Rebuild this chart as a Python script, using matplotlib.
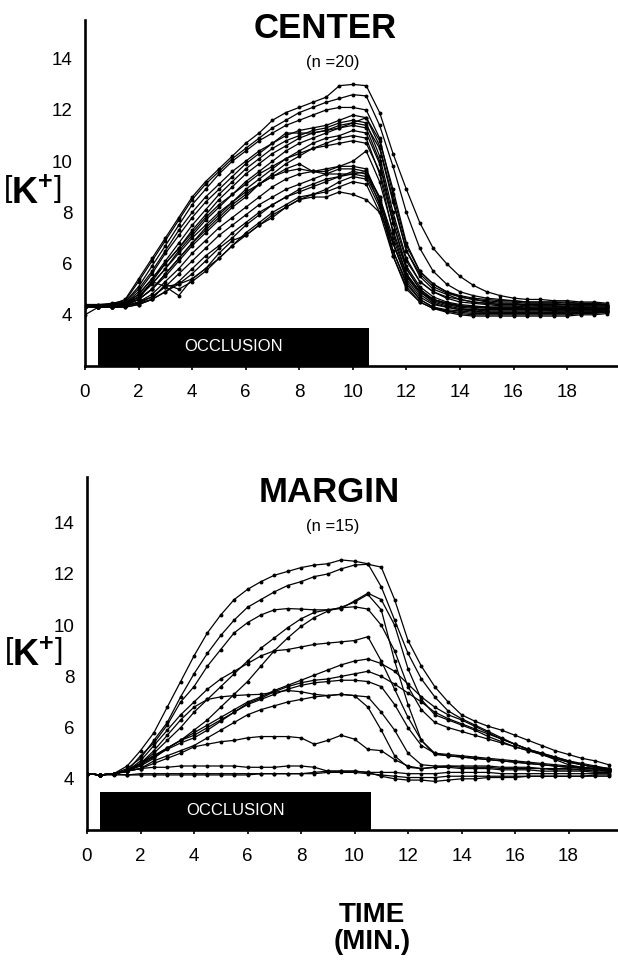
import matplotlib
matplotlib.use("Agg")
import matplotlib.pyplot as plt
from matplotlib.patches import Rectangle
import numpy as np

plt.rcParams['font.family'] = ['Liberation Sans', 'DejaVu Sans']
plt.rcParams['mathtext.fontset'] = 'custom'
plt.rcParams['mathtext.rm'] = 'Liberation Sans'
plt.rcParams['mathtext.bf'] = 'Liberation Sans:bold'

# sampling grid, minutes
time = np.arange(0, 20, 0.5)

# occlusion interval, minutes
occlusion_start = 0.5
occlusion_end = 10.6

# ---- CENTER recordings, [K+] in mM ----
c01 = [4.4, 4.4, 4.4, 4.6, 5.4, 6.2, 7.0, 7.8, 8.6, 9.2,
       9.7, 10.2, 10.7, 11.1, 11.6, 11.9, 12.1, 12.3, 12.5, 12.95,
       13.0, 12.95, 11.9, 10.3, 8.9, 7.6, 6.6, 6.0, 5.5, 5.15,
       4.9, 4.75, 4.65, 4.6, 4.6, 4.55, 4.55, 4.5, 4.5, 4.45]
c02 = [4.4, 4.4, 4.45, 4.55, 5.3, 6.1, 6.9, 7.7, 8.5, 9.1,
       9.6, 10.1, 10.5, 10.9, 11.3, 11.6, 11.9, 12.1, 12.3, 12.45,
       12.6, 12.55, 11.4, 9.8, 8.0, 6.6, 5.7, 5.2, 4.9, 4.75,
       4.65, 4.6, 4.55, 4.5, 4.5, 4.5, 4.5, 4.45, 4.45, 4.4]
c03 = [4.35, 4.35, 4.4, 4.5, 5.1, 5.9, 6.7, 7.5, 8.3, 8.9,
       9.5, 10.0, 10.4, 10.8, 11.1, 11.4, 11.6, 11.8, 12.0, 12.1,
       12.1, 12.0, 10.9, 8.7, 6.7, 5.7, 5.2, 4.9, 4.75, 4.65,
       4.6, 4.55, 4.55, 4.5, 4.5, 4.5, 4.45, 4.45, 4.45, 4.4]
c04 = [4.35, 4.35, 4.4, 4.5, 5.0, 5.7, 6.5, 7.3, 8.0, 8.6,
       9.1, 9.6, 10.0, 10.4, 10.7, 11.0, 11.2, 11.3, 11.4, 11.6,
       11.8, 11.7, 10.6, 8.5, 6.5, 5.6, 5.1, 4.85, 4.7, 4.6,
       4.55, 4.5, 4.5, 4.45, 4.45, 4.45, 4.4, 4.4, 4.4, 4.4]
c05 = [4.35, 4.35, 4.4, 4.45, 4.9, 5.6, 6.4, 7.1, 7.8, 8.4,
       8.9, 9.4, 9.9, 10.3, 10.7, 11.1, 11.1, 11.1, 11.2, 11.3,
       11.5, 11.7, 10.8, 8.9, 6.8, 5.7, 5.2, 4.9, 4.7, 4.6,
       4.5, 4.45, 4.45, 4.4, 4.4, 4.4, 4.4, 4.35, 4.35, 4.35]
c06 = [4.35, 4.35, 4.35, 4.45, 4.8, 5.4, 6.1, 6.8, 7.5, 8.1,
       8.7, 9.2, 9.7, 10.1, 10.5, 10.8, 11.0, 11.2, 11.3, 11.5,
       11.6, 11.5, 10.2, 8.0, 6.2, 5.3, 4.9, 4.7, 4.6, 4.5,
       4.45, 4.4, 4.4, 4.4, 4.35, 4.35, 4.35, 4.35, 4.35, 4.35]
c07 = [4.35, 4.35, 4.35, 4.4, 4.7, 5.3, 6.0, 6.6, 7.3, 7.9,
       8.5, 9.0, 9.5, 9.9, 10.3, 10.6, 10.9, 11.1, 11.2, 11.4,
       11.5, 11.4, 10.5, 8.4, 6.5, 5.5, 5.0, 4.8, 4.6, 4.5,
       4.45, 4.4, 4.4, 4.35, 4.35, 4.35, 4.3, 4.3, 4.3, 4.3]
c08 = [4.35, 4.35, 4.35, 4.4, 4.7, 5.2, 5.8, 6.5, 7.1, 7.7,
       8.2, 8.7, 9.2, 9.6, 10.0, 10.4, 10.7, 10.9, 11.1, 11.3,
       11.4, 11.3, 10.0, 7.8, 6.1, 5.3, 4.9, 4.65, 4.5, 4.45,
       4.4, 4.35, 4.35, 4.3, 4.3, 4.3, 4.3, 4.3, 4.3, 4.3]
c09 = [4.35, 4.35, 4.35, 4.4, 4.6, 5.0, 5.6, 6.2, 6.8, 7.4,
       7.9, 8.4, 8.9, 9.3, 9.7, 10.1, 10.4, 10.7, 10.9, 11.0,
       11.2, 11.1, 9.9, 7.6, 5.8, 5.0, 4.6, 4.45, 4.35, 4.3,
       4.3, 4.25, 4.25, 4.25, 4.25, 4.25, 4.2, 4.2, 4.2, 4.25]
c10 = [4.35, 4.35, 4.35, 4.4, 4.6, 5.0, 5.5, 6.1, 6.7, 7.2,
       7.7, 8.2, 8.6, 9.1, 9.5, 9.9, 10.2, 10.5, 10.7, 10.9,
       11.0, 10.9, 9.5, 7.2, 5.6, 4.9, 4.5, 4.35, 4.25, 4.2,
       4.2, 4.2, 4.2, 4.2, 4.2, 4.15, 4.15, 4.15, 4.15, 4.2]
c11 = [4.3, 4.3, 4.35, 4.4, 4.8, 5.4, 6.0, 6.6, 7.2, 7.8,
       8.3, 8.7, 9.1, 9.5, 9.8, 10.1, 10.3, 10.5, 10.6, 10.7,
       10.8, 10.7, 9.6, 7.6, 5.9, 5.1, 4.7, 4.5, 4.4, 4.35,
       4.3, 4.3, 4.3, 4.3, 4.3, 4.3, 4.3, 4.3, 4.25, 4.25]
c12 = [4.3, 4.3, 4.35, 4.4, 4.7, 5.2, 5.8, 6.4, 7.0, 7.5,
       8.0, 8.4, 8.8, 9.1, 9.4, 9.6, 9.7, 9.6, 9.6, 9.8,
       10.0, 10.4, 9.2, 7.3, 5.8, 5.0, 4.6, 4.45, 4.35, 4.3,
       4.25, 4.25, 4.25, 4.2, 4.2, 4.2, 4.2, 4.2, 4.2, 4.2]
c13 = [4.3, 4.3, 4.35, 4.4, 4.6, 5.0, 5.6, 6.2, 6.8, 7.3,
       7.8, 8.3, 8.7, 9.1, 9.4, 9.7, 9.9, 9.6, 9.5, 9.5,
       9.5, 9.6, 8.6, 6.8, 5.5, 4.9, 4.6, 4.45, 4.35, 4.3,
       4.3, 4.3, 4.3, 4.25, 4.25, 4.25, 4.25, 4.25, 4.25, 4.25]
c14 = [4.3, 4.3, 4.3, 4.35, 4.5, 4.8, 5.3, 5.8, 6.4, 6.9,
       7.4, 7.8, 8.2, 8.6, 9.0, 9.3, 9.5, 9.6, 9.7, 9.8,
       9.8, 9.7, 8.5, 6.5, 5.2, 4.6, 4.3, 4.2, 4.15, 4.1,
       4.1, 4.1, 4.1, 4.1, 4.1, 4.1, 4.1, 4.1, 4.1, 4.15]
c15 = [4.3, 4.3, 4.3, 4.35, 4.5, 4.7, 5.1, 5.6, 6.1, 6.6,
       7.1, 7.5, 7.9, 8.3, 8.6, 8.9, 9.1, 9.3, 9.5, 9.7,
       9.7, 9.6, 8.3, 6.3, 5.0, 4.5, 4.25, 4.15, 4.1, 4.05,
       4.05, 4.05, 4.05, 4.05, 4.05, 4.05, 4.05, 4.05, 4.1, 4.1]
c16 = [4.3, 4.3, 4.3, 4.35, 4.45, 4.7, 5.1, 5.2, 5.6, 6.1,
       6.6, 7.0, 7.5, 7.9, 8.3, 8.6, 8.9, 9.1, 9.3, 9.4,
       9.6, 9.5, 8.6, 7.0, 5.6, 4.9, 4.55, 4.4, 4.3, 4.25,
       4.2, 4.2, 4.2, 4.2, 4.2, 4.2, 4.2, 4.2, 4.2, 4.2]
c17 = [4.3, 4.3, 4.3, 4.35, 4.45, 4.6, 4.9, 5.3, 5.8, 6.3,
       6.7, 7.2, 7.6, 8.0, 8.3, 8.6, 8.8, 9.0, 9.2, 9.4,
       9.5, 9.4, 8.4, 6.8, 5.4, 4.7, 4.4, 4.3, 4.2, 4.2,
       4.15, 4.15, 4.15, 4.15, 4.15, 4.15, 4.15, 4.15, 4.15, 4.15]
c18 = [4.3, 4.3, 4.3, 4.3, 4.4, 4.6, 5.2, 5.0, 5.3, 5.7,
       6.2, 6.7, 7.2, 7.6, 8.0, 8.3, 8.6, 8.7, 8.9, 9.2,
       9.4, 9.3, 8.2, 6.5, 5.3, 4.6, 4.3, 4.15, 4.05, 4.0,
       4.0, 4.0, 4.0, 4.0, 4.0, 4.0, 4.0, 4.05, 4.05, 4.1]
c19 = [4.3, 4.3, 4.3, 4.3, 4.4, 4.6, 4.9, 5.2, 5.4, 5.8,
       6.2, 6.7, 7.1, 7.5, 7.8, 8.2, 8.5, 8.7, 8.8, 9.0,
       9.2, 9.1, 8.0, 6.3, 5.1, 4.5, 4.25, 4.1, 4.0, 3.95,
       3.95, 3.95, 3.95, 3.95, 3.95, 3.95, 3.95, 4.0, 4.0, 4.05]
c20 = [4.0, 4.3, 4.3, 4.35, 4.6, 5.3, 5.1, 4.75, 5.4, 5.8,
       6.4, 6.9, 7.1, 7.5, 7.9, 8.2, 8.5, 8.6, 8.6, 8.8,
       8.7, 8.5, 8.0, 6.8, 5.5, 4.8, 4.45, 4.3, 4.2, 4.15,
       4.1, 4.1, 4.1, 4.1, 4.1, 4.1, 4.1, 4.1, 4.1, 4.1]

center = [c01, c02, c03, c04, c05, c06, c07, c08, c09, c10,
          c11, c12, c13, c14, c15, c16, c17, c18, c19, c20]

# ---- MARGIN recordings, [K+] in mM ----
m01 = [4.2, 4.15, 4.2, 4.5, 5.1, 5.8, 6.8, 7.8, 8.8, 9.7,
       10.4, 11.0, 11.4, 11.7, 11.95, 12.1, 12.25, 12.35, 12.4, 12.55,
       12.5, 12.4, 11.5, 10.2, 8.9, 7.9, 7.2, 6.65, 6.35, 6.1,
       5.85, 5.6, 5.35, 5.15, 4.95, 4.75, 4.55, 4.45, 4.38, 4.3]
m02 = [4.2, 4.15, 4.2, 4.4, 4.8, 5.5, 6.2, 7.2, 8.1, 8.9,
       9.6, 10.2, 10.7, 11.0, 11.3, 11.55, 11.7, 11.9, 12.0, 12.2,
       12.35, 12.38, 12.27, 11.0, 9.4, 8.4, 7.6, 7.0, 6.5, 6.25,
       6.05, 5.9, 5.7, 5.5, 5.3, 5.1, 4.95, 4.8, 4.7, 4.55]
m03 = [4.2, 4.15, 4.2, 4.35, 4.6, 5.0, 5.5, 6.0, 6.6, 7.1,
       7.6, 8.1, 8.6, 9.1, 9.5, 9.9, 10.25, 10.5, 10.6, 10.65,
       10.95, 11.25, 11.0, 10.0, 8.3, 7.1, 6.5, 6.3, 6.1, 5.9,
       5.65, 5.45, 5.25, 5.1, 4.95, 4.8, 4.65, 4.55, 4.45, 4.4]
m04 = [4.2, 4.15, 4.2, 4.3, 4.5, 4.8, 5.2, 5.5, 5.9, 6.3,
       6.8, 7.3, 7.8, 8.4, 9.0, 9.5, 9.95, 10.3, 10.55, 10.7,
       10.9, 11.2, 10.6, 8.6, 6.9, 5.5, 4.95, 4.9, 4.85, 4.8,
       4.75, 4.7, 4.65, 4.6, 4.55, 4.5, 4.45, 4.4, 4.4, 4.35]
m05 = [4.2, 4.15, 4.2, 4.3, 4.9, 5.4, 6.1, 7.0, 7.6, 8.4,
       9.05, 9.7, 10.1, 10.4, 10.6, 10.65, 10.63, 10.6, 10.6, 10.68,
       10.72, 10.63, 10.0, 9.0, 7.6, 6.7, 6.2, 6.0, 5.85, 5.7,
       5.55, 5.4, 5.25, 5.1, 4.95, 4.8, 4.65, 4.55, 4.45, 4.4]
m06 = [4.2, 4.15, 4.2, 4.3, 4.7, 5.3, 5.9, 6.5, 7.0, 7.5,
       7.9, 8.2, 8.5, 8.8, 9.0, 9.05, 9.15, 9.25, 9.3, 9.35,
       9.4, 9.55, 8.6, 7.5, 6.4, 5.5, 5.0, 4.9, 4.85, 4.8,
       4.75, 4.7, 4.65, 4.6, 4.55, 4.5, 4.45, 4.45, 4.4, 4.4]
m07 = [4.2, 4.15, 4.2, 4.3, 4.6, 4.9, 5.2, 5.5, 5.8, 6.1,
       6.4, 6.7, 7.0, 7.2, 7.45, 7.65, 7.85, 8.05, 8.25, 8.45,
       8.6, 8.68, 8.5, 8.2, 7.7, 7.2, 6.8, 6.5, 6.3, 6.05,
       5.8, 5.55, 5.35, 5.15, 5.0, 4.85, 4.7, 4.6, 4.5, 4.4]
m08 = [4.2, 4.15, 4.2, 4.3, 4.6, 4.9, 5.2, 5.5, 5.7, 6.0,
       6.3, 6.6, 6.95, 7.15, 7.4, 7.6, 7.75, 7.85, 7.9, 8.0,
       8.1, 8.2, 8.0, 7.7, 7.35, 7.0, 6.6, 6.35, 6.15, 5.95,
       5.75, 5.55, 5.35, 5.15, 5.0, 4.85, 4.7, 4.55, 4.45, 4.35]
m09 = [4.2, 4.15, 4.2, 4.3, 4.55, 4.85, 5.15, 5.4, 5.6, 5.9,
       6.25, 6.6, 6.9, 7.1, 7.3, 7.5, 7.65, 7.75, 7.8, 7.85,
       7.85, 7.8, 7.6, 6.9, 6.0, 5.3, 5.0, 4.95, 4.9, 4.85,
       4.8, 4.75, 4.7, 4.65, 4.6, 4.55, 4.5, 4.45, 4.4, 4.4]
m10 = [4.2, 4.15, 4.2, 4.3, 4.6, 5.1, 5.7, 6.3, 6.8, 7.1,
       7.2, 7.25, 7.28, 7.3, 7.38, 7.45, 7.4, 7.3, 7.25, 7.3,
       7.25, 7.2, 6.6, 5.9, 5.0, 4.55, 4.5, 4.5, 4.45, 4.45,
       4.45, 4.4, 4.4, 4.4, 4.4, 4.35, 4.35, 4.35, 4.3, 4.3]
m11 = [4.2, 4.15, 4.2, 4.3, 4.4, 4.7, 4.9, 5.1, 5.3, 5.6,
       5.9, 6.2, 6.5, 6.7, 6.85, 7.0, 7.1, 7.2, 7.25, 7.3,
       7.25, 6.8, 5.9, 4.9, 4.45, 4.4, 4.45, 4.5, 4.5, 4.5,
       4.5, 4.45, 4.45, 4.45, 4.4, 4.4, 4.4, 4.35, 4.35, 4.3]
m12 = [4.2, 4.15, 4.2, 4.3, 4.4, 4.6, 4.8, 5.0, 5.25, 5.35,
       5.45, 5.5, 5.6, 5.65, 5.65, 5.65, 5.6, 5.35, 5.5, 5.7,
       5.55, 5.15, 5.1, 4.75, 4.5, 4.4, 4.45, 4.45, 4.4, 4.4,
       4.4, 4.35, 4.35, 4.35, 4.3, 4.3, 4.3, 4.3, 4.25, 4.25]
m13 = [4.2, 4.15, 4.2, 4.3, 4.4, 4.45, 4.45, 4.5, 4.5, 4.5,
       4.5, 4.5, 4.45, 4.45, 4.45, 4.5, 4.5, 4.45, 4.3, 4.3,
       4.3, 4.25, 4.25, 4.25, 4.2, 4.2, 4.2, 4.25, 4.25, 4.25,
       4.25, 4.2, 4.2, 4.2, 4.2, 4.2, 4.2, 4.2, 4.2, 4.2]
m14 = [4.2, 4.15, 4.2, 4.15, 4.2, 4.2, 4.2, 4.2, 4.2, 4.2,
       4.2, 4.2, 4.2, 4.2, 4.2, 4.2, 4.2, 4.25, 4.3, 4.3,
       4.3, 4.25, 4.1, 4.0, 3.95, 3.95, 3.9, 3.95, 4.0, 4.0,
       4.05, 4.05, 4.05, 4.1, 4.1, 4.1, 4.1, 4.1, 4.15, 4.15]
m15 = [4.2, 4.15, 4.15, 4.15, 4.15, 4.15, 4.15, 4.15, 4.15, 4.15,
       4.15, 4.15, 4.15, 4.2, 4.2, 4.2, 4.2, 4.2, 4.25, 4.25,
       4.25, 4.2, 4.15, 4.1, 4.05, 4.05, 4.05, 4.1, 4.1, 4.1,
       4.1, 4.1, 4.1, 4.1, 4.1, 4.1, 4.1, 4.1, 4.1, 4.1]

margin = [m01, m02, m03, m04, m05, m06, m07, m08, m09, m10,
          m11, m12, m13, m14, m15]

x_ticks = [0, 2, 4, 6, 8, 10, 12, 14, 16, 18]
y_ticks = [4, 6, 8, 10, 12, 14]

W, H = 618, 961
fig = plt.figure(figsize=(W / 100, H / 100), dpi=100)
fig.patch.set_facecolor('white')

ax_top = fig.add_axes([85 / W, (H - 366) / H, (W - 85) / W, 13.5 * 25.6 / H])
ax_bot = fig.add_axes([87 / W, (H - 830) / H, (W - 87) / W, 13.8 * 25.6 / H])


def draw_panel(ax, series, ymax, xmax):
    for s in series:
        ax.plot(time, s, color='black', lw=0.9, marker='o', ms=2.8,
                mfc='black', mec='black', mew=0, zorder=3)
    ax.set_xlim(0, xmax)
    ax.set_ylim(2, ymax)
    for side in ('top', 'right'):
        ax.spines[side].set_visible(False)
    for side in ('left', 'bottom'):
        ax.spines[side].set_linewidth(1.9)
    ax.add_patch(Rectangle((occlusion_start, 2), occlusion_end - occlusion_start, 1.5,
                           facecolor='black', edgecolor='none', zorder=2))
    ax.text((occlusion_start + occlusion_end) / 2, 2.75, 'OCCLUSION', color='white',
            ha='center', va='center', fontsize=12, zorder=4)
    ax.set_xticks(x_ticks)
    ax.set_yticks(y_ticks)
    ax.tick_params(axis='x', length=3, width=1.2, pad=10, labelsize=13.5)
    ax.tick_params(axis='y', length=0, pad=9, labelsize=13.5)


draw_panel(ax_top, center, 15.5, 19.9)
draw_panel(ax_bot, margin, 15.8, 19.85)

k_label = r'$\left[\mathbf{K}^{\mathbf{+}}\right]$'
fig.text(32 / W, 1 - 195 / H, k_label, fontsize=26, ha='center', va='center')
fig.text(33 / W, 1 - 656 / H, k_label, fontsize=26, ha='center', va='center')

fig.text(325 / W, 1 - 28 / H, 'CENTER', fontsize=25, fontweight='bold',
         ha='center', va='center')
fig.text(333 / W, 1 - 63 / H, '(n =20)', fontsize=12, ha='center', va='center')
fig.text(329 / W, 1 - 492 / H, 'MARGIN', fontsize=25, fontweight='bold',
         ha='center', va='center')
fig.text(333 / W, 1 - 526 / H, '(n =15)', fontsize=12, ha='center', va='center')

fig.text(372 / W, 1 - 915 / H, 'TIME', fontsize=20, fontweight='bold',
         ha='center', va='center')
fig.text(372 / W, 1 - 942 / H, '(MIN.)', fontsize=20, fontweight='bold',
         ha='center', va='center')

fig.savefig('out.png', dpi=100, facecolor='white')
